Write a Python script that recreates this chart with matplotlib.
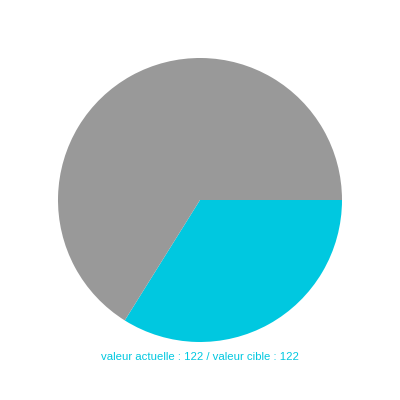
import matplotlib
matplotlib.use("Agg")
import matplotlib.pyplot as plt

# Données
labels = ["actuelle", "reste"]
valeurs = [122, 238]
couleurs = ["#00c8e0", "#999999"]
valeur_actuelle = 122
valeur_cible = 122

fig = plt.figure(figsize=(4, 4), dpi=100)
ax = fig.add_axes([0, 0, 1, 1])

ax.pie(valeurs, colors=couleurs, startangle=0, counterclock=False,
       radius=0.71, wedgeprops={"linewidth": 0})
ax.set_xlim(-1, 1)
ax.set_ylim(-1, 1)
ax.set_aspect("equal")
ax.axis("off")

fig.text(0.5, 0.107, f"valeur actuelle : {valeur_actuelle} / valeur cible : {valeur_cible}",
         ha="center", va="center", color="#00c8e0", fontsize=8.2,
         family="Liberation Sans")

fig.savefig("out.png", dpi=100, facecolor="white")
